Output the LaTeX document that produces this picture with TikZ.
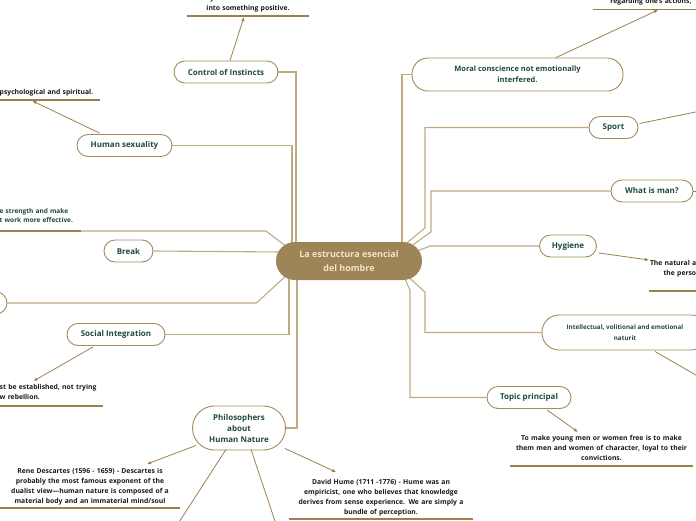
\documentclass[tikz,border=0pt]{standalone}
\usepackage{fontspec}
\setmainfont{Open Sans}
\usepackage{xcolor}
\usepackage{tikz}
\usetikzlibrary{arrows.meta, positioning, calc, backgrounds}
\definecolor{mapbrown}{HTML}{9B8050}
\definecolor{mapbranch}{HTML}{BFAB82}
\definecolor{mapline}{HTML}{A38B5C}
\definecolor{mapgreen}{HTML}{1F4A3B}
\definecolor{mapfill}{HTML}{9E8557}
\definecolor{mapcream}{HTML}{F2E6C6}
\tikzset{
    central/.style={rectangle, rounded corners=19pt, fill=mapfill, minimum width=146pt, minimum height=38pt, align=center, text=mapcream, font=\bfseries\fontsize{9}{14}\selectfont},
    topic/.style={rectangle, rounded corners=11pt, draw=mapline, line width=0.9pt, fill=white, minimum height=22pt, inner sep=2pt, align=center, text=mapgreen, font=\bfseries\fontsize{8}{10}\selectfont},
    remark/.style={inner xsep=0pt, inner ysep=#1, font=\bfseries\fontsize{6.8}{10}\selectfont, text=black!90},
    remark/.default=3pt,
    uline/.style={draw=mapbrown, line width=1.3pt},
    branch/.style={draw=mapbranch, line width=1.1pt},
    arrow/.style={draw=mapbrown, line width=0.8pt, -{Latex[length=4pt,width=3.5pt]}}
}

\begin{document}
\begin{tikzpicture}[x=1pt, y=-1pt]
    \useasboundingbox (0,0) rectangle (696,520);
    % centre
    \node (core) [central] at (349,261) {La estructura esencial\\del hombre};

    % left side
    \node (instinct) [topic, minimum width=104pt] at (226,72) {Control of Instincts};
    \node (sexuality) [topic, minimum width=95pt] at (124.5,145.5) {Human sexuality};
    \node (pause) [topic, minimum width=49pt] at (128.5,251) {Break};
    \node (leftcut) [topic, minimum width=100pt] at (-43,303) {};
    \node (social) [topic, minimum width=98pt] at (116,334.5) {Social Integration};
    \node (philo) [topic, rounded corners=22pt, minimum width=93pt, minimum height=44pt, font=\bfseries\fontsize{8}{11}\selectfont] at (239,428) {Philosophers\\about\\Human Nature};

    % right side
    \node (moral) [topic, rounded corners=16pt, minimum width=211pt, minimum height=33pt, font=\bfseries\fontsize{7.5}{11}\selectfont] at (517.5,74.5) {Moral conscience not emotionally\\interfered.};
    \node (sport) [topic, minimum width=49pt] at (613.5,127.5) {Sport};
    \node (whatman) [topic, minimum width=82pt] at (652,191) {What is man?};
    \node (hygiene) [topic, minimum width=57pt] at (568,246) {Hygiene};
    \node (intellect) [topic, rounded corners=17pt, minimum width=166pt, minimum height=35pt, font=\bfseries\fontsize{6.3}{10.5}\selectfont] at (625,332.5) {Intellectual, volitional and emotional\\naturit};
    \node (principal) [topic, minimum width=84pt] at (529,397.5) {Topic principal};

    % notes
    \node (instinctnote) [remark=3.8pt, text width=122pt, align=center, anchor=south] at (248,16) {ability to transform frustrations\\into something positive.};
    \node (sexnote) [remark=3.6pt, text width=100pt, align=left, anchor=south west] at (-0.5,100) {psychological and spiritual.};
    \node (strengthnote) [remark=8.2pt, text width=81pt, align=left, anchor=south west, text=mapgreen, font=\bfseries\fontsize{6.5}{9.5}\selectfont] at (-0.5,231) {e strength and make\\t work more effective.};
    \node (socialnote) [remark=6pt, text width=103pt, align=left, anchor=south west] at (-0.5,406) {st be established, not trying\\w rebellion.};
    \node (descartes) [remark=2.5pt, text width=180pt, align=center, anchor=south] at (90,508) {Rene Descartes (1596 - 1659) - Descartes is\\probably the most famous exponent of the\\dualist view---human nature is composed of a\\material body and an immaterial mind/soul};
    \node (hume) [remark=2.5pt, text width=184pt, align=center, anchor=south] at (381,519) {David Hume (1711 -1776) - Hume was an\\empiricist, one who believes that knowledge\\derives from sense experience. We are simply a\\bundle of perception.};
    \node (principalnote) [remark=5pt, text width=183pt, align=center, anchor=south] at (601.5,466) {To make young men or women free is to make\\them men and women of character, loyal to their\\convictions.};
    \node (moralnote) [remark=4.5pt, text width=116pt, align=center, anchor=south] at (651,9.5) {regarding one's actions,};
    \node (hygienenote) [remark=13.5pt, text width=47pt, align=right, anchor=south west] at (649,291) {The natural a\\the perso};

    \coordinate (sportfar) at (720,107);
    \coordinate (manfar) at (720,191);
    \coordinate (intellectfar) at (720,389);
    \coordinate (philofar1) at (172,533);
    \coordinate (philofar2) at (279,533);

    % underlines
    \draw [uline] (instinctnote.south west) -- (instinctnote.south east);
    \draw [uline] (sexnote.south west) -- (sexnote.south east);
    \draw [uline] (strengthnote.south west) -- (strengthnote.south east);
    \draw [uline] (socialnote.south west) -- (socialnote.south east);
    \draw [uline] (descartes.south west) -- (descartes.south east);
    \draw [uline] (hume.south west) -- (hume.south east);
    \draw [uline] (principalnote.south west) -- (principalnote.south east);
    \draw [uline] (moralnote.south west) -- (moralnote.south east);
    \draw [uline] (hygienenote.south west) -- ++(60,0);

    % branches from the centre
    \begin{scope}[on background layer]
        \draw [branch] ($(core.north)+(-53,1)$) |- (instinct.east);
        \draw [branch] ($(core.north)+(-57,2)$) |- (sexuality.east);
        \draw [branch] (strengthnote.south east) -- ++(185,0) -- ($(core.west)+(10,-15)$);
        \draw [branch] (pause.east) -- ($(core.west)+(7,-9)$);
        \draw [branch] (leftcut.east) -- ++(249,0) -- ($(core.west)+(10,15)$);
        \draw [branch] ($(core.south)+(-60,-2)$) |- (social.east);
        \draw [branch] ($(core.south)+(-52,-1)$) |- (philo.east);
        \draw [branch] ($(core.north)+(53,2)$) |- (moral.west);
        \draw [branch] ($(core.north)+(58,1)$) -- ++(18,-15) |- (sport.west);
        \draw [branch] ($(core.north)+(64,3)$) -- ++(18,-13) |- (whatman.west);
        \draw [branch] ($(core.east)+(-5,-10)$) -- ++(13,-5) -- (hygiene.west);
        \draw [branch] ($(core.south)+(61,-2)$) -- ++(15,14) |- (intellect.west);
        \draw [branch] ($(core.south)+(56,-1)$) -- ++(5,11) |- (principal.west);
    \end{scope}

    % arrows to the notes
    \draw [arrow] ($(instinct.north)+(4,0)$) -- ($(instinctnote.south)+(-4,1)$);
    \draw [arrow] ($(sexuality.north)+(-25,-1)$) -- ($(sexnote.south west)+(33,1)$);
    \draw [arrow] ($(social.south)+(-23,1)$) -- ($(socialnote.south west)+(34,-25)$);
    \draw [arrow] ($(philo.south west)+(4,-5)$) -- ($(descartes.south)+(57,-44)$);
    \draw [arrow] ($(philo.south east)+(-1,-2)$) -- ($(hume.south)+(-45,-47)$);
    \draw [arrow] ($(philo.south)+(-13,-1)$) -- (philofar1);
    \draw [arrow] ($(philo.south)+(12,-1)$) -- (philofar2);
    \draw [arrow] ($(moral.north)+(38.5,0)$) -- ($(moralnote.south)+(7,0.5)$);
    \draw [arrow] ($(sport.east)+(1,-4)$) -- (sportfar);
    \draw [arrow] (whatman.east) -- (manfar);
    \draw [arrow] ($(hygiene.east)+(2,7)$) -- ($(hygienenote.south west)+(0,-31)$);
    \draw [arrow] ($(intellect.south)+(30,1)$) -- (intellectfar);
    \draw [arrow] ($(principal.south)+(18,1)$) -- ($(principalnote.south)+(-23.5,-34)$);
\end{tikzpicture}
\end{document}
